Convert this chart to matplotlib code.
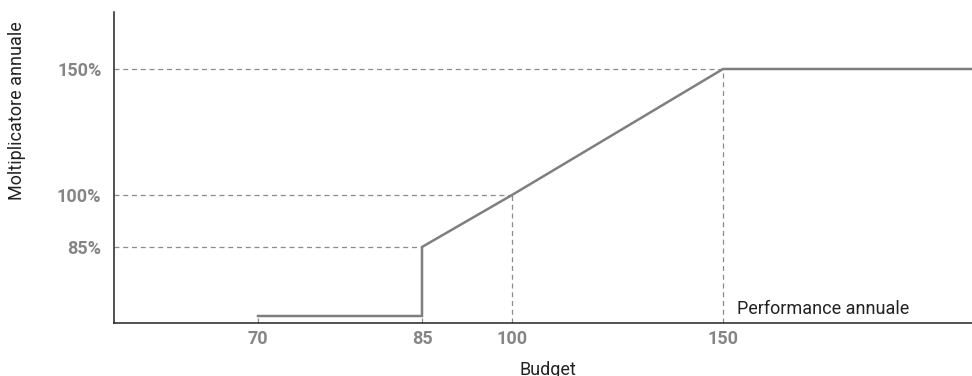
import numpy as np
import matplotlib
matplotlib.use("Agg")
import matplotlib.pyplot as plt

# budget (x) and multiplier (y) values of the curve
budget = [70, 85, 85, 100, 150, 200]
multiplier = [0, 0, 85, 100, 150, 150]

x_ticks = [70, 85, 100, 150]
x_tick_labels = ["70", "85", "100", "150"]
y_ticks = [85, 100, 150]
y_tick_labels = ["85%", "100%", "150%"]

# the chart is not drawn to a linear scale: piecewise knots (value -> position)
x_knots_val = [50, 70, 85, 100, 150, 200]
x_knots_pos = [0, 144, 308, 398, 609, 858]
y_knots_val = [-10, 0, 85, 100, 150, 175]
y_knots_pos = [0, 7, 76, 128, 254, 311]


def fwd(kv, kp):
    return lambda v: np.interp(v, kv, kp)


plt.rcParams['font.family'] = ['Roboto', 'DejaVu Sans']

fig = plt.figure(figsize=(9.72, 3.76), dpi=100)
ax = fig.add_axes([114 / 972, 53 / 376, 858 / 972, 311 / 376])

ax.set_xscale('function', functions=(fwd(x_knots_val, x_knots_pos), fwd(x_knots_pos, x_knots_val)))
ax.set_yscale('function', functions=(fwd(y_knots_val, y_knots_pos), fwd(y_knots_pos, y_knots_val)))
ax.set_xlim(x_knots_val[0], x_knots_val[-1])
ax.set_ylim(y_knots_val[0], y_knots_val[-1])

dash_kw = dict(color='#8c8c8c', lw=0.9, linestyle=(0, (4, 3)), zorder=1)
line_at = dict(zip(budget[::-1], multiplier[::-1]))
for xv in x_ticks:
    top = 0 if xv in (70, 85) else line_at[xv]
    ax.plot([xv, xv], [y_knots_val[0], top], **dash_kw)
for yv in y_ticks:
    ax.plot([x_knots_val[0], yv], [yv, yv], **dash_kw)

ax.plot(budget, multiplier, color='#7f7f7f', lw=1.8, solid_joinstyle='miter', zorder=3)

ax.set_xticks(x_ticks)
ax.set_xticklabels(x_tick_labels)
ax.set_yticks(y_ticks)
ax.set_yticklabels(y_tick_labels)
ax.minorticks_off()
ax.tick_params(length=0, labelsize=13, labelcolor='#858585')
ax.tick_params(axis='x', pad=5)
ax.tick_params(axis='y', pad=9)
for lab in ax.get_xticklabels() + ax.get_yticklabels():
    lab.set_fontweight('bold')

for s in ['top', 'right']:
    ax.spines[s].set_visible(False)
for s in ['left', 'bottom']:
    ax.spines[s].set_color('#222222')
    ax.spines[s].set_linewidth(1.1)

ax.annotate("Performance annuale", xy=(150, y_knots_val[0]), xytext=(10, 3.5),
            textcoords='offset points', ha='left', va='bottom',
            fontsize=13, color='#222222')

fig.text(548 / 972, 1 - 370 / 376, "Budget", ha='center', va='center',
         fontsize=13, color='#222222')
fig.text(17 / 972, 1 - 111 / 376, "Moltiplicatore annuale", ha='center', va='center',
         rotation=90, fontsize=13, color='#222222')

fig.savefig("out.png", dpi=100)
